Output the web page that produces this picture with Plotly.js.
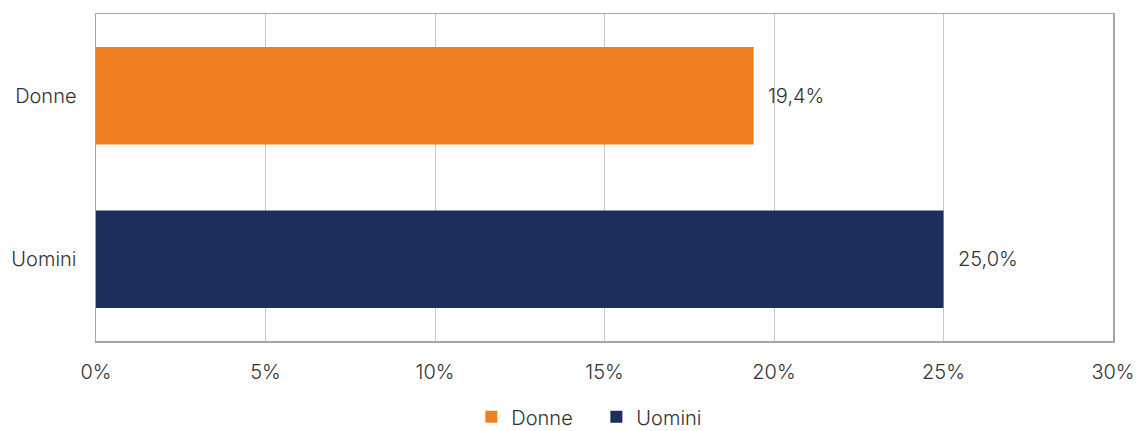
<!DOCTYPE html>
<html>
<head>
<meta charset="utf-8">
<script src="https://cdn.plot.ly/plotly-3.0.1.min.js"></script>
<style>html,body{margin:0;padding:0;background:#fff;}#chart{width:1136px;height:431px;}</style>
</head>
<body>
<div id="chart"></div>
<script>
const categories = ["Donne", "Uomini"];
const values = [19.4, 25.0];
const labels = ["19,4%", "25,0%"];
const colors = ["#ee8022", "#1c2e5c"];
const xTicks = [0, 5, 10, 15, 20, 25, 30];
const xTickText = ["0%", "5%", "10%", "15%", "20%", "25%", "30%"];

const traces = categories.map((c, i) => ({
  type: "bar",
  orientation: "h",
  name: c,
  y: [c],
  x: [values[i]],
  marker: {color: colors[i]},
  width: 0.595,
  hoverinfo: "none"
}));

const annotations = categories.map((c, i) => ({
  x: values[i], y: c, xref: "x", yref: "y",
  text: labels[i], showarrow: false,
  xanchor: "left", xshift: 12,
  font: {size: 20, color: "#333333", weight: 300}
}));

const layout = {
  width: 1136, height: 431,
  margin: {l: 96, r: 23, t: 14, b: 90, autoexpand: false},
  paper_bgcolor: "#ffffff", plot_bgcolor: "#ffffff",
  font: {family: "Inter, Roboto, sans-serif", size: 20, color: "#333333", weight: 300},
  barmode: "overlay",
  showlegend: true,
  legend: {orientation: "h", x: 0.492, xanchor: "center", xref: "paper",
           y: -0.232, yref: "paper", yanchor: "middle",
           font: {size: 20, color: "#333333", weight: 300}, itemwidth: 30, entrywidth: 80,
           traceorder: "normal"},
  xaxis: {range: [0, 30], tickvals: xTicks, ticktext: xTickText,
          showgrid: true, gridcolor: "#c8c8c8", gridwidth: 1,
          zeroline: false, showline: true, mirror: true, linecolor: "#a6a6a6", linewidth: 1.5,
          ticks: "", ticklabelstandoff: 12, automargin: false, fixedrange: true},
  yaxis: {type: "category", categoryorder: "array", categoryarray: categories,
          autorange: "reversed", showgrid: false, zeroline: false,
          showline: true, mirror: true, linecolor: "#a6a6a6", linewidth: 1.5,
          ticks: "", ticklabelstandoff: 14, automargin: false, fixedrange: true},
  annotations: annotations
};

Plotly.newPlot("chart", traces, layout, {displayModeBar: false, staticPlot: true});
</script>
</body>
</html>
